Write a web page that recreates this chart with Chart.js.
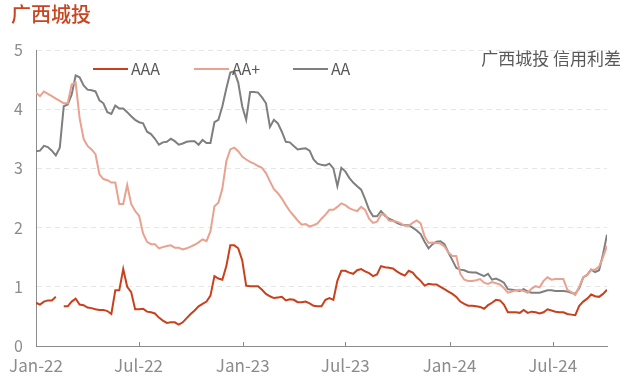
<!DOCTYPE html>
<html>
<head>
<meta charset="utf-8">
<script src="https://cdn.jsdelivr.net/npm/chart.js@4.4.1/dist/chart.umd.min.js"></script>
<style>
  html, body { margin: 0; padding: 0; background: #fff; }
  #wrap { width: 631px; height: 386px; }
</style>
</head>
<body>
<div id="wrap"><canvas id="spreadChart" width="631" height="386"></canvas></div>
<script>
// 广西城投 credit spreads, weekly from first week of Jan-22
var seriesNames = ["AAA", "AA+", "AA"];
var tickLabels = ["Jan-22", "Jul-22", "Jan-23", "Jul-23", "Jan-24", "Jul-24"];
var tickWeeks = [0, 25.86, 52.14, 78.0, 104.29, 130.29];

var aaa = [0.73,0.70,0.75,0.77,0.77,0.83,null,0.67,0.67,0.75,0.80,0.70,0.69,0.65,0.64,0.62,0.61,0.61,0.59,0.54,
  0.94,0.94,1.30,1.00,0.91,0.62,0.62,0.63,0.58,0.57,0.55,0.48,0.43,0.39,0.40,0.40,0.36,0.40,0.47,0.54,
  0.60,0.67,0.71,0.75,0.85,1.18,1.14,1.12,1.35,1.70,1.70,1.65,1.45,1.02,1.01,1.01,1.01,0.95,0.88,0.84,
  0.81,0.82,0.83,0.77,0.79,0.78,0.74,0.74,0.75,0.72,0.68,0.67,0.67,0.78,0.81,0.78,1.10,1.27,1.27,1.24,
  1.22,1.28,1.30,1.26,1.23,1.18,1.21,1.35,1.33,1.32,1.31,1.26,1.22,1.19,1.27,1.24,1.16,1.10,1.02,1.05,
  1.04,1.04,1.00,0.96,0.92,0.88,0.83,0.75,0.71,0.68,0.68,0.67,0.66,0.63,0.69,0.73,0.78,0.77,0.70,0.57,
  0.57,0.57,0.56,0.61,0.56,0.58,0.57,0.55,0.57,0.62,0.60,0.58,0.57,0.57,0.54,0.53,0.52,0.68,0.75,0.80,
  0.87,0.84,0.83,0.88,0.95];

var aaPlus = [4.28,4.22,4.30,4.26,4.22,4.18,4.14,4.10,4.10,4.42,4.45,3.85,3.50,3.38,3.32,3.24,2.90,2.82,2.80,2.76,
  2.76,2.40,2.40,2.72,2.40,2.28,2.20,1.90,1.76,1.72,1.72,1.65,1.67,1.69,1.70,1.66,1.66,1.63,1.65,1.68,
  1.71,1.75,1.80,1.77,1.94,2.36,2.42,2.66,3.12,3.32,3.35,3.29,3.20,3.15,3.11,3.08,3.04,3.01,2.92,2.78,
  2.65,2.58,2.49,2.38,2.28,2.20,2.12,2.05,2.06,2.02,2.04,2.07,2.15,2.22,2.30,2.30,2.35,2.41,2.38,2.33,
  2.30,2.28,2.35,2.30,2.15,2.08,2.10,2.22,2.22,2.12,2.11,2.10,2.07,2.03,2.03,2.08,2.12,2.07,1.85,1.74,
  1.75,1.74,1.73,1.68,1.58,1.52,1.52,1.22,1.12,1.10,1.10,1.11,1.13,1.07,1.05,1.08,1.06,1.04,0.98,0.90,
  0.92,0.94,0.95,0.93,0.90,0.97,1.01,0.99,1.10,1.16,1.12,1.13,1.13,1.13,0.95,0.91,0.86,1.00,1.16,1.20,
  1.29,1.29,1.34,1.50,1.69];

var aa = [3.29,3.30,3.38,3.36,3.30,3.22,3.35,4.05,4.08,4.25,4.57,4.54,4.40,4.33,4.32,4.30,4.15,4.10,3.95,3.92,
  4.06,4.01,4.01,3.95,3.88,3.82,3.78,3.76,3.62,3.58,3.50,3.40,3.44,3.45,3.50,3.46,3.40,3.42,3.45,3.46,
  3.46,3.40,3.48,3.43,3.43,3.78,3.82,4.05,4.35,4.62,4.64,4.45,4.05,3.82,4.29,4.29,4.28,4.20,4.10,3.70,
  3.82,3.76,3.62,3.45,3.44,3.38,3.32,3.33,3.34,3.30,3.15,3.08,3.06,3.05,3.08,3.00,2.70,3.01,2.95,2.84,
  2.76,2.70,2.64,2.48,2.30,2.19,2.19,2.28,2.20,2.15,2.12,2.08,2.05,2.04,2.04,2.00,1.95,1.89,1.76,1.65,
  1.72,1.76,1.77,1.72,1.58,1.45,1.32,1.29,1.28,1.25,1.24,1.24,1.21,1.18,1.22,1.12,1.14,1.11,1.07,0.96,
  0.95,0.94,0.93,0.96,0.92,0.90,0.90,0.90,0.92,0.94,0.94,0.93,0.93,0.93,0.92,0.90,0.88,0.98,1.16,1.20,
  1.29,1.25,1.28,1.55,1.88];

var colors = ["#C9401D", "#E9A28F", "#7F7F7F"];
var cjk = "'Noto Sans CJK SC', 'Noto Sans', sans-serif";

function toPoints(arr){
  var pts = [];
  for (var i = 0; i < arr.length; i++) {
    pts.push({x: i, y: arr[i]});
  }
  return pts;
}

// title, legend, note and inner x ticks
var decorations = {
  id: "decorations",
  afterDraw: function(chart){
    var ctx = chart.ctx;
    ctx.save();
    ctx.textBaseline = "middle";
    ctx.fillStyle = "#C9441F";
    ctx.font = "500 20px " + cjk;
    ctx.textAlign = "left";
    ctx.fillText("广西城投", 11, 14);

    ctx.fillStyle = "#595959";
    ctx.font = "17px " + cjk;
    ctx.textAlign = "right";
    ctx.fillText("广西城投 信用利差", 621, 59);

    var legX = [93, 194, 293];
    ctx.textAlign = "left";
    ctx.font = "16px " + cjk;
    for (var i = 0; i < seriesNames.length; i++) {
      ctx.strokeStyle = colors[i];
      ctx.lineWidth = 2;
      ctx.beginPath();
      ctx.moveTo(legX[i], 69);
      ctx.lineTo(legX[i] + 35, 69);
      ctx.stroke();
      ctx.fillStyle = "#595959";
      ctx.fillText(seriesNames[i], legX[i] + 38, 69);
    }

    var xs = chart.scales.x;
    ctx.strokeStyle = "#8c8c8c";
    ctx.lineWidth = 1;
    for (var j = 1; j < xs.ticks.length; j++) {
      var px = Math.round(xs.getPixelForValue(xs.ticks[j].value)) + 0.5;
      ctx.beginPath();
      ctx.moveTo(px, chart.chartArea.bottom - 4);
      ctx.lineTo(px, chart.chartArea.bottom);
      ctx.stroke();
    }
    ctx.restore();
  }
};

var chartDiv = document.getElementById("spreadChart");
var spreadChart = new Chart(chartDiv, {
  type: "line",
  data: {
    datasets: [
      { label: seriesNames[0], data: toPoints(aaa), borderColor: colors[0], borderWidth: 2, spanGaps: false },
      { label: seriesNames[1], data: toPoints(aaPlus), borderColor: colors[1], borderWidth: 2 },
      { label: seriesNames[2], data: toPoints(aa), borderColor: colors[2], borderWidth: 2 }
    ]
  },
  options: {
    responsive: false,
    animation: false,
    devicePixelRatio: 1,
    layout: { padding: { top: 50, right: 24, left: 0, bottom: 0 } },
    elements: { point: { radius: 0 }, line: { tension: 0, fill: false } },
    plugins: { legend: { display: false }, title: { display: false }, tooltip: { enabled: false } },
    scales: {
      x: {
        type: "linear",
        min: 0,
        max: aa.length - 1,
        afterBuildTicks: function(scale){
          scale.ticks = tickWeeks.map(function(v){ return {value: v}; });
        },
        afterFit: function(scale){ scale.height = 40; },
        grid: { display: false, drawTicks: false },
        border: { display: true, color: "#8c8c8c", width: 1 },
        ticks: {
          autoSkip: false,
          maxRotation: 0,
          padding: 9,
          color: "#8c8c8c",
          font: { family: cjk, size: 17 },
          callback: function(value, index){ return tickLabels[index]; }
        }
      },
      y: {
        min: 0,
        max: 5,
        afterFit: function(scale){ scale.width = 36; },
        grid: {
          drawTicks: false,
          color: function(c){ return c.tick && c.tick.value === 0 ? "rgba(0,0,0,0)" : "#e6e6e6"; }
        },
        border: { display: true, color: "#8c8c8c", width: 1, dash: [5, 4] },
        ticks: {
          stepSize: 1,
          padding: 13,
          color: "#8c8c8c",
          font: { family: cjk, size: 16 }
        }
      }
    }
  },
  plugins: [decorations]
});
</script>
</body>
</html>
